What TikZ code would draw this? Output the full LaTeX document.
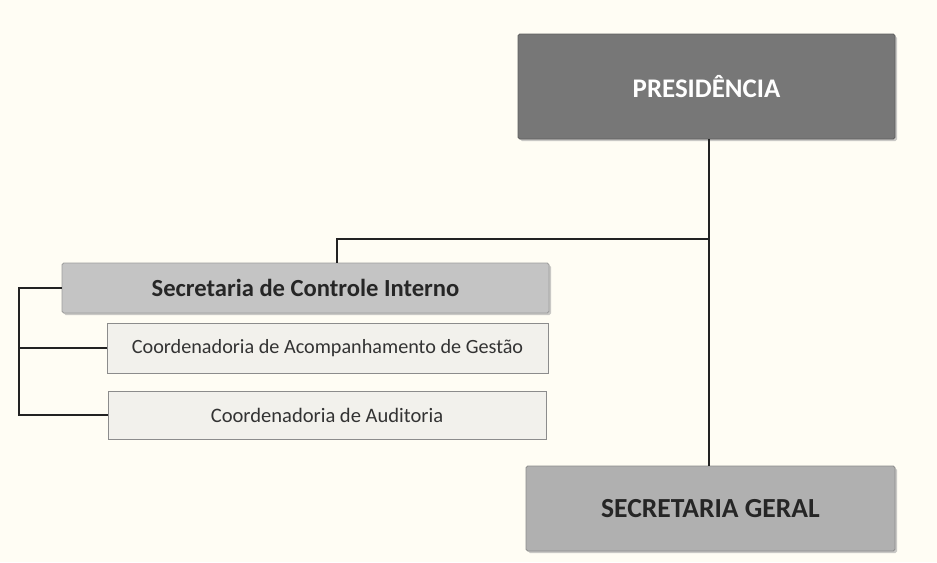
\documentclass[tikz,border=0pt]{standalone}
\usepackage{fontspec}
\setmainfont{Carlito}
\usetikzlibrary{shadows}
\definecolor{bgc}{HTML}{FFFDF4}
\definecolor{presfill}{HTML}{777777}
\definecolor{geralfill}{HTML}{B0B0B0}
\definecolor{scifill}{HTML}{C4C4C4}
\definecolor{coordfill}{HTML}{F2F1EC}
\definecolor{linec}{HTML}{222222}
\tikzset{
  x=0.02cm, y=-0.02cm,
  orgbox/.style={draw=#1!80!black, line width=0.5pt, rounded corners=1pt, inner sep=0pt,
    drop shadow={shadow xshift=1.2pt, shadow yshift=-1.2pt, fill=black!35, opacity=0.6}},
  conn/.style={draw=linec, line width=0.7pt},
}
\begin{document}
\begin{tikzpicture}
\fill[bgc] (0,0) rectangle (937,562);
\useasboundingbox (0,0) rectangle (937,562);
% boxes
\node[orgbox=presfill, fill=presfill, minimum width=377*0.02cm, minimum height=105*0.02cm,
  text=white, font=\bfseries\fontsize{15.3}{18}\selectfont] (pres) at (706.5,86.5) {PRESIDÊNCIA};
\node[orgbox=geralfill, fill=geralfill, minimum width=369*0.02cm, minimum height=85*0.02cm,
  text=black!85, font=\bfseries\fontsize{15.7}{18}\selectfont] (geral) at (710.5,508.5) {SECRETARIA GERAL};
\node[orgbox=scifill, fill=scifill, minimum width=487*0.02cm, minimum height=50*0.02cm,
  text=black!85, font=\bfseries\fontsize{14}{16}\selectfont] (sci) at (305.5,288) {Secretaria de Controle Interno};
\node[draw=black!45, fill=coordfill, line width=0.5pt, inner sep=0pt, minimum width=441*0.02cm, minimum height=50*0.02cm,
  text=black!80, font=\fontsize{11.5}{14}\selectfont] (acomp) at (327.5,348) {Coordenadoria de Acompanhamento de Gestão};
\node[draw=black!45, fill=coordfill, line width=0.5pt, inner sep=0pt, minimum width=438*0.02cm, minimum height=48*0.02cm,
  text=black!80, font=\fontsize{11.7}{14}\selectfont] (aud) at (327,415) {Coordenadoria de Auditoria};
% connectors
\coordinate (j) at (709,239);
\coordinate (lb) at (19,288);
\draw[conn] (pres.south -| j) -- (j) -- (geral.north -| j);
\draw[conn] (j) -- (337,239) -- (sci.north -| 337,0);
\draw[conn] (sci.west) -- (lb) |- (aud.west);
\draw[conn] (lb |- acomp.west) -- (acomp.west);
\end{tikzpicture}
\end{document}
